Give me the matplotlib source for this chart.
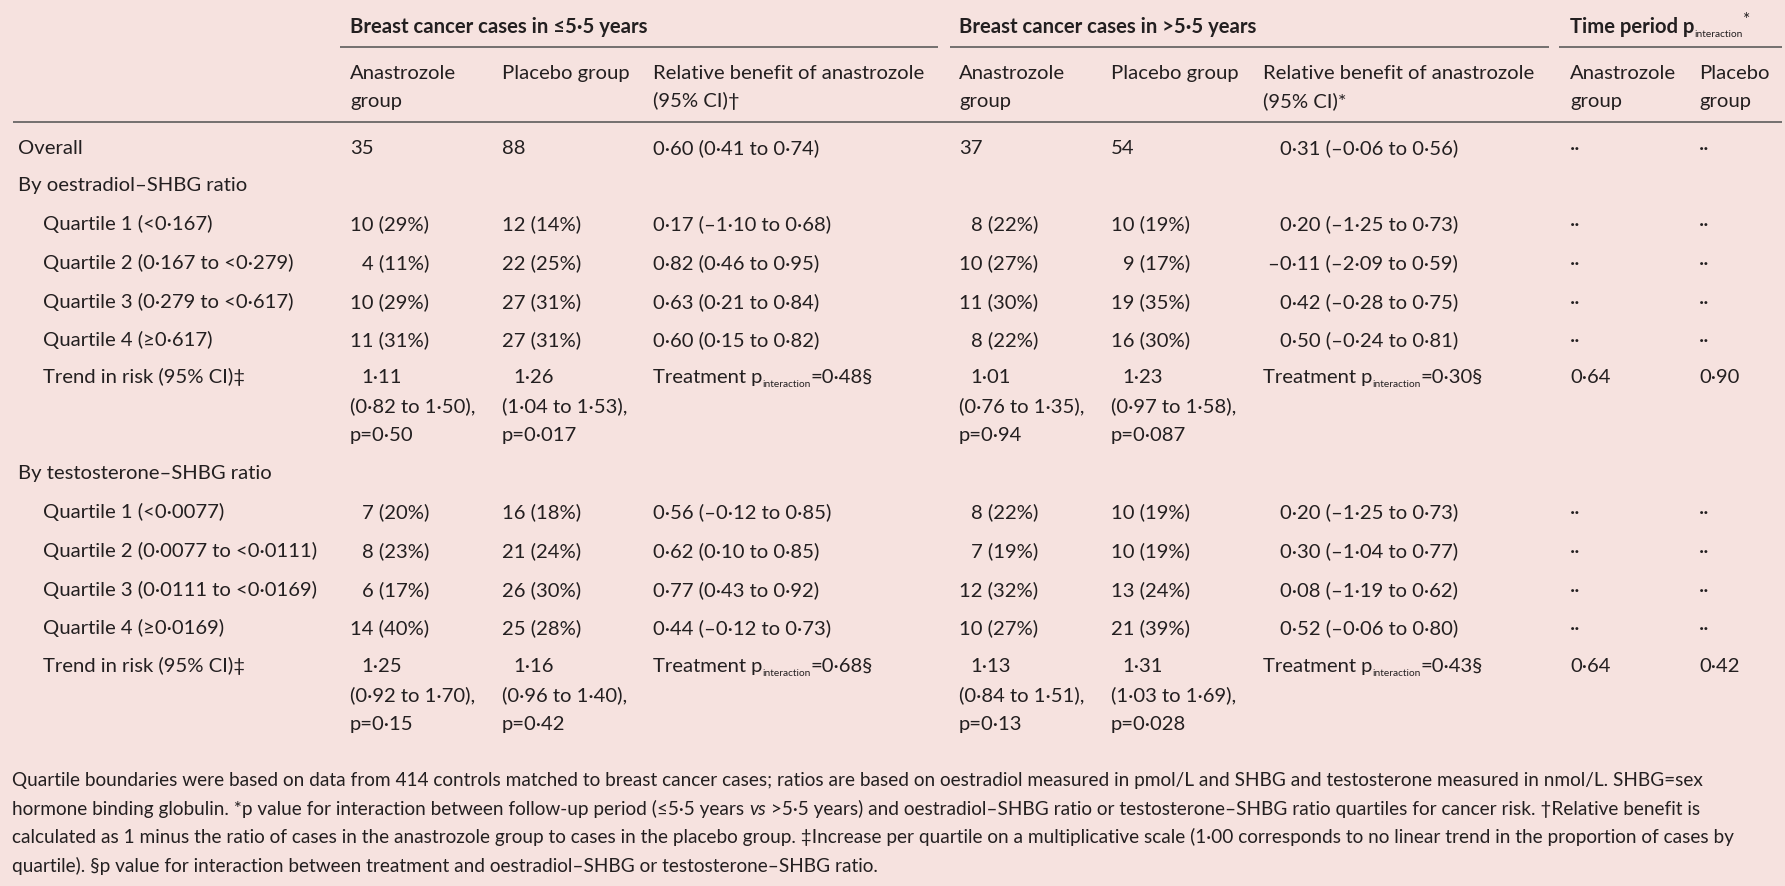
import matplotlib
matplotlib.use('Agg')
import matplotlib.pyplot as plt
from matplotlib import font_manager

# ---- table content ----
group_headers = ["Breast cancer cases in \u22645\u00b75 years", "Breast cancer cases in >5\u00b75 years"]
sub_headers = [["Anastrozole", "group"], ["Placebo group"], ["Relative benefit of anastrozole", "(95% CI)\u2020"],
               ["Anastrozole", "group"], ["Placebo group"], ["Relative benefit of anastrozole", "(95% CI)*"],
               ["Anastrozole", "group"], ["Placebo", "group"]]

overall_row = ["35", "88", "0\u00b760 (0\u00b741 to 0\u00b774)", "37", "54", "0\u00b731 (\u20130\u00b706 to 0\u00b756)", "\u00b7\u00b7", "\u00b7\u00b7"]

oe_title = "By oestradiol\u2013SHBG ratio"
oe_labels = ["Quartile 1 (<0\u00b7167)", "Quartile 2 (0\u00b7167 to <0\u00b7279)",
             "Quartile 3 (0\u00b7279 to <0\u00b7617)", "Quartile 4 (\u22650\u00b7617)"]
oe_anas_early = ["10 (29%)", "4 (11%)", "10 (29%)", "11 (31%)"]
oe_plac_early = ["12 (14%)", "22 (25%)", "27 (31%)", "27 (31%)"]
oe_rel_early = ["0\u00b717 (\u20131\u00b710 to 0\u00b768)", "0\u00b782 (0\u00b746 to 0\u00b795)",
                "0\u00b763 (0\u00b721 to 0\u00b784)", "0\u00b760 (0\u00b715 to 0\u00b782)"]
oe_anas_late = ["8 (22%)", "10 (27%)", "11 (30%)", "8 (22%)"]
oe_plac_late = ["10 (19%)", "9 (17%)", "19 (35%)", "16 (30%)"]
oe_rel_late = ["0\u00b720 (\u20131\u00b725 to 0\u00b773)", "\u20130\u00b711 (\u20132\u00b709 to 0\u00b759)",
               "0\u00b742 (\u20130\u00b728 to 0\u00b775)", "0\u00b750 (\u20130\u00b724 to 0\u00b781)"]
oe_trend_anas_early = ["1\u00b711", "(0\u00b782 to 1\u00b750),", "p=0\u00b750"]
oe_trend_plac_early = ["1\u00b726", "(1\u00b704 to 1\u00b753),", "p=0\u00b7017"]
oe_trend_treat_early = "0\u00b748\u00a7"
oe_trend_anas_late = ["1\u00b701", "(0\u00b776 to 1\u00b735),", "p=0\u00b794"]
oe_trend_plac_late = ["1\u00b723", "(0\u00b797 to 1\u00b758),", "p=0\u00b7087"]
oe_trend_treat_late = "0\u00b730\u00a7"
oe_time_p = ["0\u00b764", "0\u00b790"]

te_title = "By testosterone\u2013SHBG ratio"
te_labels = ["Quartile 1 (<0\u00b70077)", "Quartile 2 (0\u00b70077 to <0\u00b70111)",
             "Quartile 3 (0\u00b70111 to <0\u00b70169)", "Quartile 4 (\u22650\u00b70169)"]
te_anas_early = ["7 (20%)", "8 (23%)", "6 (17%)", "14 (40%)"]
te_plac_early = ["16 (18%)", "21 (24%)", "26 (30%)", "25 (28%)"]
te_rel_early = ["0\u00b756 (\u20130\u00b712 to 0\u00b785)", "0\u00b762 (0\u00b710 to 0\u00b785)",
                "0\u00b777 (0\u00b743 to 0\u00b792)", "0\u00b744 (\u20130\u00b712 to 0\u00b773)"]
te_anas_late = ["8 (22%)", "7 (19%)", "12 (32%)", "10 (27%)"]
te_plac_late = ["10 (19%)", "10 (19%)", "13 (24%)", "21 (39%)"]
te_rel_late = ["0\u00b720 (\u20131\u00b725 to 0\u00b773)", "0\u00b730 (\u20131\u00b704 to 0\u00b777)",
               "0\u00b708 (\u20131\u00b719 to 0\u00b762)", "0\u00b752 (\u20130\u00b706 to 0\u00b780)"]
te_trend_anas_early = ["1\u00b725", "(0\u00b792 to 1\u00b770),", "p=0\u00b715"]
te_trend_plac_early = ["1\u00b716", "(0\u00b796 to 1\u00b740),", "p=0\u00b742"]
te_trend_treat_early = "0\u00b768\u00a7"
te_trend_anas_late = ["1\u00b713", "(0\u00b784 to 1\u00b751),", "p=0\u00b713"]
te_trend_plac_late = ["1\u00b731", "(1\u00b703 to 1\u00b769),", "p=0\u00b7028"]
te_trend_treat_late = "0\u00b743\u00a7"
te_time_p = ["0\u00b764", "0\u00b742"]

trend_label = "Trend in risk (95% CI)\u2021"

footnotes = [
    "Quartile boundaries were based on data from 414 controls matched to breast cancer cases; ratios are based on oestradiol measured in pmol/L and SHBG and testosterone measured in nmol/L. SHBG=sex",
    "hormone binding globulin. *p value for interaction between follow-up period (\u22645\u00b75 years |vs| >5\u00b75 years) and oestradiol\u2013SHBG ratio or testosterone\u2013SHBG ratio quartiles for cancer risk. \u2020Relative benefit is",
    "calculated as 1 minus the ratio of cases in the anastrozole group to cases in the placebo group. \u2021Increase per quartile on a multiplicative scale (1\u00b700 corresponds to no linear trend in the proportion of cases by",
    "quartile). \u00a7p value for interaction between treatment and oestradiol\u2013SHBG or testosterone\u2013SHBG ratio.",
]

# ---- style / layout ----
BG = '#F6E2DF'
INK = '#231F20'
RULE = '#505050'

names = {f.name for f in font_manager.fontManager.ttflist}
plt.rcParams['font.family'] = ['Lato', 'DejaVu Sans'] if 'Lato' in names else ['DejaVu Sans']

W, H = 1785, 886
fig = plt.figure(figsize=(W / 100, H / 100), dpi=100, facecolor=BG)
ax = fig.add_axes([0, 0, 1, 1])
ax.set_xlim(0, W)
ax.set_ylim(H, 0)
ax.axis('off')
renderer = fig.canvas.get_renderer()


def put(x, y, s, size, weight='normal', style='normal'):
    return ax.text(x, y, s, fontsize=size, fontweight=weight, fontstyle=style,
                   color=INK, va='baseline', ha='left')


def width(s, size, weight='normal'):
    t = put(0, -100, s, size, weight)
    w = t.get_window_extent(renderer).width
    t.remove()
    return w


def runs(x, y, parts, keep=True):
    # parts: (text, size, dy, weight, style); returns end x
    made = []
    for s, size, dy, weight, style in parts:
        t = put(x, y + dy, s, size, weight, style)
        x += t.get_window_extent(renderer).width
        made.append(t)
    if not keep:
        for t in made:
            t.remove()
    return x


# body font size fitted to the reference label width
FS = 10 * 274 / width(te_labels[1], 10)
SUB = FS * 0.5
DIGIT = width("0", FS)
DASH = width("\u2013", FS)

HDRX = [350, 502, 653, 959, 1111, 1263, 1570, 1699]
COLX = [350, 502, 653, 959, 1111, 1268, 1570, 1699]
X_GROUP, X_ROW = 18, 43

# header
put(HDRX[0], 33, group_headers[0], FS, 'bold')
put(HDRX[3], 33, group_headers[1], FS, 'bold')
runs(HDRX[6], 33, [("Time period p", FS, 0, 'bold', 'normal'),
                   ("interaction", SUB, 4, 'normal', 'normal'),
                   ("*", FS * 0.85, -8, 'normal', 'normal')])
for x0, x1 in [(340, 938), (950, 1549), (1559, 1782)]:
    ax.plot([x0, x1], [47, 47], color=RULE, lw=1.1, solid_capstyle='butt')

for x, lines in zip(HDRX, sub_headers):
    for k, s in enumerate(lines):
        put(x, 79 + 28 * k, s, FS)
ax.plot([13, 1782], [122, 122], color=RULE, lw=1.1, solid_capstyle='butt')


def cell(col, y, s):
    x = COLX[col]
    if col in (0, 1, 3, 4) and len(s.split(' ')[0]) == 1:
        x += DIGIT
    if col == 5 and not s.startswith('\u2013'):
        x += DASH
    put(x, y, s, FS)


put(X_GROUP, 154, "Overall", FS)
for c, s in enumerate(overall_row):
    cell(c, 154, s)


def block(title, y_title, labels, cols, y_rows, trend_cols, treat, time_p, y_trend):
    put(X_GROUP, y_title, title, FS)
    for i, lab in enumerate(labels):
        put(X_ROW, y_rows[i], lab, FS)
        for c, vals in enumerate(cols):
            cell(c, y_rows[i], vals[i])
        cell(6, y_rows[i], "\u00b7\u00b7")
        cell(7, y_rows[i], "\u00b7\u00b7")
    put(X_ROW, y_trend[0], trend_label, FS)
    for col, vals in zip((0, 1, 3, 4), trend_cols):
        for k, s in enumerate(vals):
            put(COLX[col] + (DIGIT if k == 0 else 0), y_trend[k], s, FS)
    for col, s in zip((2, 5), treat):
        runs(HDRX[col], y_trend[0], [("Treatment p", FS, 0, 'normal', 'normal'),
                                     ("interaction", SUB, 4, 'normal', 'normal'),
                                     ("=" + s, FS, 0, 'normal', 'normal')])
    put(COLX[6], y_trend[0], time_p[0], FS)
    put(COLX[7], y_trend[0], time_p[1], FS)


block(oe_title, 191, oe_labels,
      [oe_anas_early, oe_plac_early, oe_rel_early, oe_anas_late, oe_plac_late, oe_rel_late],
      [230, 269, 308, 346],
      [oe_trend_anas_early, oe_trend_plac_early, oe_trend_anas_late, oe_trend_plac_late],
      [oe_trend_treat_early, oe_trend_treat_late], oe_time_p, [383, 412, 441])

block(te_title, 479, te_labels,
      [te_anas_early, te_plac_early, te_rel_early, te_anas_late, te_plac_late, te_rel_late],
      [518, 557, 596, 634],
      [te_trend_anas_early, te_trend_plac_early, te_trend_anas_late, te_trend_plac_late],
      [te_trend_treat_early, te_trend_treat_late], te_time_p, [672, 701, 730])


# footnote: size chosen so no line runs past the reference line ends
def foot_parts(line, size):
    return [(p, size, 0, 'normal', 'italic' if j % 2 else 'normal')
            for j, p in enumerate(line.split('|'))]


FX = 12
line_ends = [1698, 1696, 1733]
ratios = [(end - FX) / (runs(FX, -200, foot_parts(line, FS), keep=False) - FX)
          for line, end in zip(footnotes[:3], line_ends)]
FN = FS * sum(ratios) / len(ratios)
for k, line in enumerate(footnotes):
    runs(FX, 786 + 28.7 * k, foot_parts(line, FN))

fig.savefig('out.png', dpi=100, facecolor=BG)
